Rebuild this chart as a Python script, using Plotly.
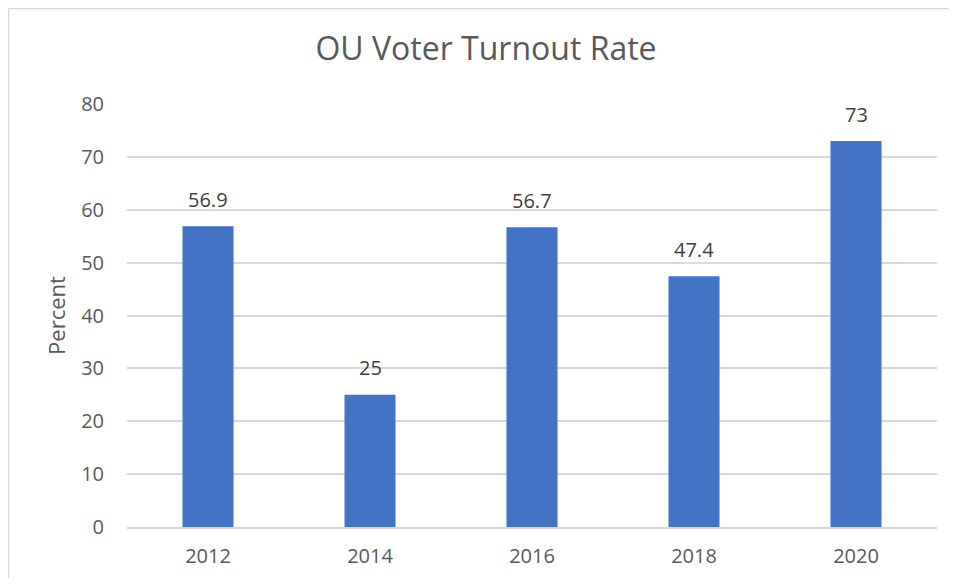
import plotly.graph_objects as go

years = ["2012", "2014", "2016", "2018", "2020"]
turnout = [56.9, 25, 56.7, 47.4, 73]
labels = ["56.9", "25", "56.7", "47.4", "73"]

FONT = "Open Sans"
GRAY = "#595959"

fig = go.Figure(go.Bar(
    x=years, y=turnout, marker=dict(color="#4472C4", line=dict(width=0)),
    hoverinfo="skip",
))

for i, (v, t) in enumerate(zip(turnout, labels)):
    fig.add_annotation(x=i, y=v, text=t, showarrow=False, yanchor="middle",
                       yshift=27, font=dict(family=FONT, size=20, color="#404040"))

# the html page adds an 8px body margin; size the figure to fit the window
W, H = 941, 570
L, R, T, B = 119, 12, 96, 51
pw, ph = W - L - R, H - T - B
# chart frame border (left and top edges of the embedded chart box)
fx = (0.5 - L) / pw
fy = (H - 0.5 - B) / ph
fig.add_shape(type="line", xref="paper", yref="paper",
              x0=fx, x1=fx, y0=-B / ph, y1=fy,
              line=dict(color="#D9D9D9", width=1.5))
fig.add_shape(type="line", xref="paper", yref="paper",
              x0=fx, x1=(W - L) / pw, y0=fy, y1=fy,
              line=dict(color="#D9D9D9", width=1.5))

fig.update_layout(
    width=W, height=H,
    margin=dict(l=L, r=R, t=T, b=B, autoexpand=False),
    paper_bgcolor="white", plot_bgcolor="white",
    bargap=0.685,
    showlegend=False,
    title=dict(text="OU Voter Turnout Rate", x=478 / W, xref="container", xanchor="center",
               y=(H - 41) / H, yanchor="middle",
               font=dict(family=FONT, size=32, color=GRAY)),
    xaxis=dict(type="category", range=[-0.5, len(years) - 0.5], autorange=False,
               automargin=False,
               showgrid=False, showline=True, linecolor="#D9D9D9", linewidth=1.5,
               ticks="", tickfont=dict(family=FONT, size=20, color=GRAY),
               ticklabelstandoff=10),
    yaxis=dict(range=[0, 80], autorange=False, automargin=False, dtick=10, showgrid=True,
               gridcolor="#D9D9D9", gridwidth=1.5, zeroline=False, showline=False, ticks="",
               tickfont=dict(family=FONT, size=20, color=GRAY), ticklabelstandoff=22,
               title=dict(text="Percent", font=dict(family=FONT, size=22, color=GRAY),
                          standoff=9)),
)

fig.write_html("out.html")
